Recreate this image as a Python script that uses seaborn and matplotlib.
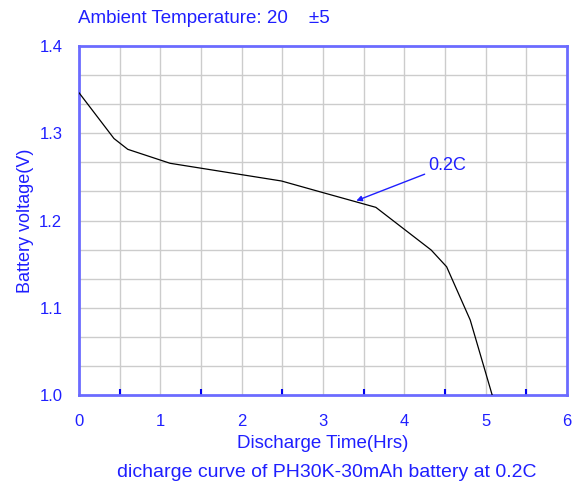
import matplotlib
matplotlib.use("Agg")
import matplotlib.pyplot as plt
import numpy as np
import pandas as pd
import seaborn as sns

# discharge curve
hours = [0.0, 0.43, 0.60, 1.12, 2.49, 2.96, 3.65, 4.33, 4.52, 4.81, 5.08]
voltage = [1.3465, 1.294, 1.2816, 1.2656, 1.2453, 1.233, 1.2151, 1.1662, 1.147, 1.086, 1.0]

x_ticks = [0, 1, 2, 3, 4, 5, 6]
y_ticks = [1.0, 1.1, 1.2, 1.3, 1.4]
y_tick_labels = ["1.0", "1.1", "1.2", "1.3", "1.4"]

sns.set_theme(style="white")
plt.rcParams["font.family"] = ["Liberation Sans", "DejaVu Sans"]

BLUE = "#1f1fff"
SPINE = "#6b6bff"
GRID = "#cccccc"

df = pd.DataFrame({"hours": hours, "voltage": voltage})

fig = plt.figure(figsize=(5.74, 4.86), dpi=100)
ax = fig.add_axes([0.1376, 0.1872, 0.8502, 0.7181])

# 12 x 12 grid
for gx in np.linspace(0, 6, 13)[1:-1]:
    ax.axvline(gx, color=GRID, lw=1.0, zorder=0)
for gy in np.linspace(1.0, 1.4, 13)[1:-1]:
    ax.axhline(gy, color=GRID, lw=1.0, zorder=0)

sns.lineplot(data=df, x="hours", y="voltage", ax=ax, color="black", lw=0.9, zorder=3)

ax.set_xlim(0, 6)
ax.set_ylim(1.0, 1.4)
ax.set_xticks(x_ticks)
ax.set_xticks(np.arange(0.5, 6, 1.0), minor=True)
ax.set_yticks(y_ticks)
ax.set_yticklabels(y_tick_labels)
ax.tick_params(axis="x", which="major", length=0, colors=BLUE, labelsize=12, pad=14)
ax.tick_params(axis="x", which="minor", direction="in", length=4, width=1.5,
               color="#0000ee", bottom=True)
ax.tick_params(axis="y", length=0, colors=BLUE, labelsize=12, pad=12)
for sp in ax.spines.values():
    sp.set_color(SPINE)
    sp.set_linewidth(2)
    sp.set_visible(True)

ax.set_xlabel("Discharge Time(Hrs)", color=BLUE, fontsize=13.5, labelpad=4)
ax.set_ylabel("Battery voltage(V)", color=BLUE, fontsize=13, labelpad=4)

ax.annotate("0.2C", xy=(3.41, 1.2227), xytext=(4.29, 1.263), color=BLUE, fontsize=13,
            va="center", ha="left",
            arrowprops=dict(arrowstyle="-|>", color=BLUE, lw=1, shrinkA=0, shrinkB=0,
                            mutation_scale=8))

fig.text(0.136, 0.962, "Ambient Temperature: 20    ±5", color=BLUE, fontsize=13.5,
         ha="left", va="center")
fig.text(0.569, 0.028, "dicharge curve of PH30K-30mAh battery at 0.2C", color=BLUE,
         fontsize=14, ha="center", va="center")

fig.savefig("out.png", dpi=100)
